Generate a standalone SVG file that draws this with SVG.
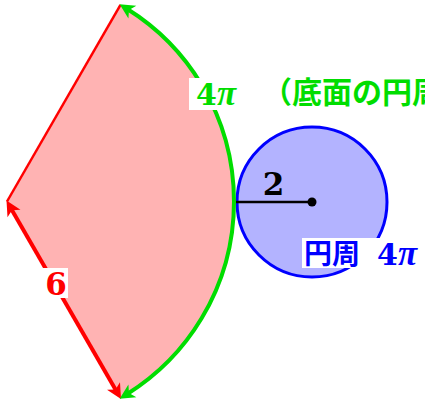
<svg xmlns="http://www.w3.org/2000/svg" width="425" height="401" viewBox="0 0 425 401">
<style>
.num{font-family:"DejaVu Serif",serif;font-weight:bold}
.pi{font-family:"Liberation Serif",serif;font-weight:bold;font-style:italic;font-size:35px}
.cjk{font-family:"Noto Sans CJK JP",sans-serif;font-weight:bold}
</style>
<defs>
<marker id="ag" markerUnits="userSpaceOnUse" orient="auto-start-reverse" refX="0" refY="0" markerWidth="20" markerHeight="20" overflow="visible">
<path d="M9,0 L-6,-7.5 L-2,0 L-6,7.5 Z" fill="#00dd00"/>
</marker>
<marker id="ar" markerUnits="userSpaceOnUse" orient="auto-start-reverse" refX="0" refY="0" markerWidth="20" markerHeight="20" overflow="visible">
<path d="M9,0 L-6,-7.5 L-2,0 L-6,7.5 Z" fill="#ff0000"/>
</marker>
</defs>
<rect width="425" height="401" fill="#ffffff"/>
<g id="sector">
<path d="M7,201.5 L120.5,4.9 A227,227 0 0 1 120.5,398.1 Z" fill="#ffb3b3"/>
</g>
<g id="circle">
<circle cx="312" cy="202" r="75" fill="#b3b3ff" stroke="#0000ff" stroke-width="3"/>
</g>
<g id="connectors" fill="none">
<line x1="236" y1="202" x2="312" y2="202" stroke="#000000" stroke-width="2.5"/>
<circle cx="312" cy="202" r="4.5" fill="#000000"/>
<line x1="7" y1="201.5" x2="120.5" y2="4.9" stroke="#ff0000" stroke-width="2.5"/>
<line x1="11" y1="208.4" x2="116.5" y2="391.2" stroke="#ff0000" stroke-width="4" marker-start="url(#ar)" marker-end="url(#ar)"/>
<path d="M127.3,9 A227,227 0 0 1 127.3,394" stroke="#00dd00" stroke-width="4" marker-start="url(#ag)" marker-end="url(#ag)"/>
</g>
<g id="label-6">
<rect x="43" y="268" width="25" height="30" fill="#ffffff"/>
<text x="56" y="295" class="num" font-size="31" fill="#ff0000" text-anchor="middle">6</text>
</g>
<g id="label-2">
<text x="273.5" y="195" class="num" font-size="31" fill="#000000" text-anchor="middle">2</text>
</g>
<g id="label-arc">
<rect x="189" y="78" width="51" height="32" fill="#ffffff"/>
<text x="196" y="105" font-size="30" fill="#00dd00"><tspan class="num">4</tspan><tspan class="pi">π</tspan></text>
<text x="262" y="103" class="cjk" font-size="30" fill="#00dd00">（底面の円周</text>
</g>
<g id="label-circ">
<rect x="302" y="238" width="123" height="30" fill="#ffffff"/>
<text x="304" y="264" class="cjk" font-size="28" fill="#0000ff">円周</text>
<text x="377" y="265" font-size="30" fill="#0000ff"><tspan class="num">4</tspan><tspan class="pi">π</tspan></text>
</g>
</svg>
